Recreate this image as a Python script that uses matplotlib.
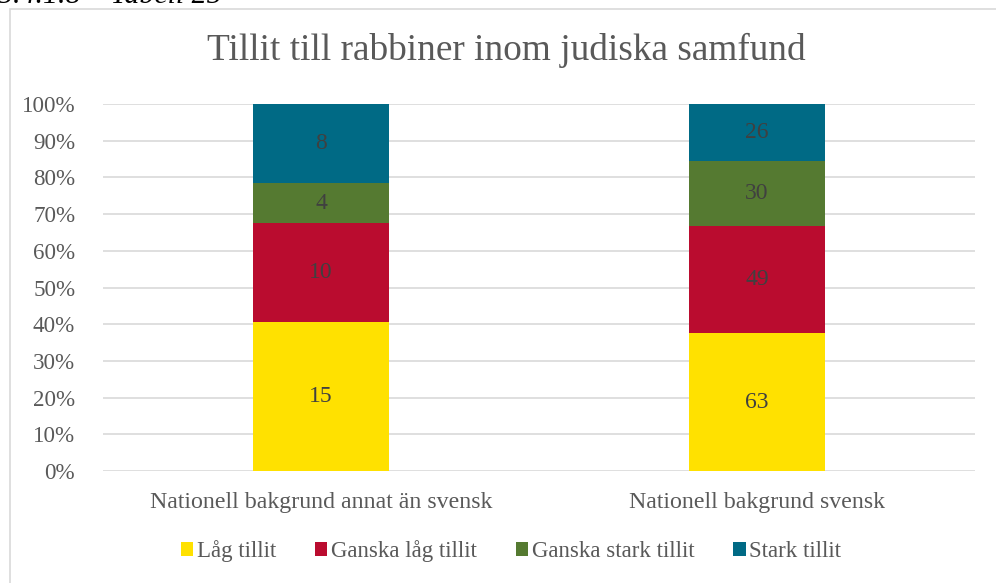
import matplotlib
matplotlib.use("Agg")
import matplotlib.pyplot as plt
import numpy as np
from matplotlib.patches import Rectangle

categories = ["Nationell bakgrund annat än svensk", "Nationell bakgrund svensk"]
series_names = ["Låg tillit", "Ganska låg tillit", "Ganska stark tillit", "Stark tillit"]
values = {
    "Låg tillit": [15, 63],
    "Ganska låg tillit": [10, 49],
    "Ganska stark tillit": [4, 30],
    "Stark tillit": [8, 26],
}
colors = ["#FFE100", "#BA0C2F", "#557A31", "#006A85"]
yticks = [0, 10, 20, 30, 40, 50, 60, 70, 80, 90, 100]
ytick_labels = [f"{v}%" for v in yticks]

plt.rcParams['font.family'] = ['Liberation Serif', 'DejaVu Serif']
grey = "#595959"

fig = plt.figure(figsize=(9.96, 5.83), dpi=100)
# chart border
fig.patches.append(Rectangle((10/996, -0.01), 1.0, 1 - 9/583 + 0.01, transform=fig.transFigure,
                             fill=False, edgecolor="#D9D9D9", linewidth=1.2))
fig.text(-0.002, 1 - 3/583, "5.4.1.8 – Tabell 25", fontsize=21.5, style='italic', color="black",
         ha='left', va='baseline')

ax = fig.add_axes([103/996, 1 - 471/583, (975 - 103)/996, (471 - 104)/583])
x = np.arange(len(categories))
totals = np.sum([values[s] for s in series_names], axis=0)
bottom = np.zeros(len(categories))
for s, c in zip(series_names, colors):
    v = np.array(values[s], dtype=float)
    pct = v / totals * 100
    ax.bar(x, pct, 0.31, bottom=bottom, color=c, label=s, zorder=3)
    for xi, b, p, val in zip(x, bottom, pct, v):
        ax.text(xi, b + p / 2, f"{int(val)}", ha='center', va='center', fontsize=17,
                color="#404040", zorder=4)
    bottom += pct

ax.set_xlim(-0.5, 1.5)
ax.set_ylim(0, 100)
ax.set_yticks(yticks)
ax.set_yticklabels(ytick_labels, fontsize=16.6, color=grey)
ax.set_xticks(x)
ax.set_xticklabels(categories, fontsize=17.2, color=grey)
ax.tick_params(axis='both', length=0)
ax.tick_params(axis='y', pad=20)
ax.tick_params(axis='x', pad=15)
ax.grid(axis='y', color="#D9D9D9", linewidth=1.2, zorder=0)
for sp in ax.spines.values():
    sp.set_visible(False)

fig.text(506/996, 1 - 50/583, "Tillit till rabbiner inom judiska samfund", fontsize=26.8,
         color=grey, ha='center', va='center')

handles, labels = ax.get_legend_handles_labels()
fig.legend(handles, labels, loc='center', bbox_to_anchor=(511/996, 1 - 551/583), ncol=4,
           frameon=False, fontsize=16.5, labelcolor=grey, handlelength=0.55, handleheight=0.55,
           handletextpad=0.15, columnspacing=1.7)

fig.savefig("out.png", dpi=100)
